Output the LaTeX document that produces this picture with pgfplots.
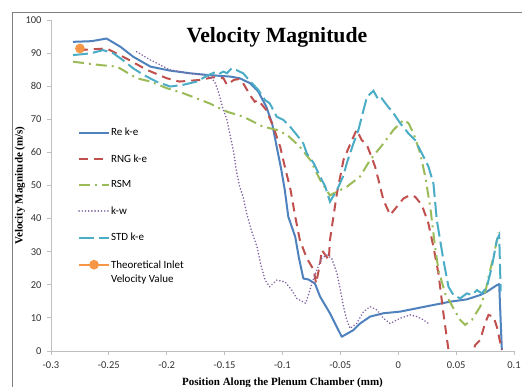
\documentclass[border=0pt]{standalone}
\usepackage{fontspec}
\setmainfont{Liberation Serif}
\newfontfamily\carlito{Carlito}
\usepackage{pgfplots}
\pgfplotsset{compat=1.18}
\definecolor{cblue}{HTML}{4F81BD}
\definecolor{cred}{HTML}{C0504D}
\definecolor{cgreen}{HTML}{9BBB59}
\definecolor{cpurple}{HTML}{8064A2}
\definecolor{cteal}{HTML}{4BACC6}
\definecolor{corange}{HTML}{F79646}
\begin{document}
\begin{tikzpicture}
\path[use as bounding box] (0pt,0pt) rectangle (522pt,387pt);
\draw[color=gray, line width=1pt] (12.7pt,0pt) -- (12.7pt,374.3pt) -- (522pt,374.3pt);
\begin{axis}[
  at={(51pt,36pt)}, anchor=south west,
  scale only axis, width=463pt, height=331pt,
  xmin=-0.3, xmax=0.1, ymin=0, ymax=100,
  axis x line*=bottom, axis y line*=left,
  axis line style={color=black!25, line width=0.8pt, -},
  tick style={color=black!25, line width=0.8pt},
  tick align=outside, major tick length=4pt,
  xtick={-0.3,-0.25,-0.2,-0.15,-0.1,-0.05,0,0.05,0.1},
  xticklabels={-0.3,-0.25,-0.2,-0.15,-0.1,-0.05,0,0.05,0.1},
  ytick={0,10,20,30,40,50,60,70,80,90,100},
  yticklabels={0,10,20,30,40,50,60,70,80,90,100},
  ticklabel style={font=\carlito\fontsize{10.5}{12}\selectfont, text=black!80},
  yticklabel style={xshift=-2pt},
  xticklabel style={yshift=-3pt},
  xlabel={Position Along the Plenum Chamber (mm)},
  ylabel={Velocity Magnitude (m/s)},
  label style={font=\bfseries\fontsize{11}{13}\selectfont},
  xlabel style={at={(axis description cs:0.5,-0.097)}, anchor=center},
  ylabel style={at={(axis description cs:-0.067,0.5)}, anchor=center},
  legend cell align=left,
  legend style={draw=none, fill=none, inner sep=0pt, row sep=15.2pt,
    at={(axis description cs:0.058,0.677)}, anchor=north west,
    font=\carlito\fontsize{11}{13.4}\selectfont,
    nodes={inner sep=1pt}},
  legend image code/.code={\draw[mark repeat=2,mark phase=2] plot coordinates {(0pt,0pt) (15pt,0pt) (30pt,0pt)};},
  clip=true,
]
\addplot[cblue, line width=2pt, line join=round] coordinates {
(-0.281,93.4)(-0.265,93.6)(-0.252,94.4)(-0.240,91.9)(-0.229,88.9)(-0.214,85.9)(-0.197,84.7)(-0.180,83.9)(-0.165,83.4)(-0.145,82.9)(-0.137,82.4)(-0.128,80.9)(-0.121,78.4)(-0.114,73.8)(-0.109,68.8)(-0.105,61.7)(-0.101,54.7)(-0.098,48.6)(-0.095,40.6)(-0.089,34.5)(-0.086,28.5)(-0.082,21.9)(-0.0776,21.6)(-0.072,20.4)(-0.0675,16.4)(-0.059,11.4)(-0.0488,4.3)(-0.0388,6.3)(-0.033,8.3)(-0.0243,10.4)(-0.0128,11.4)(0.0017,11.9)(0.016,12.9)(0.0304,13.9)(0.0449,14.9)(0.0593,15.6)(0.0708,16.9)(0.0766,17.9)(0.0852,19.9)(0.0872,20.2)(0.0895,0.3)
};
\addlegendentry{Re k-e}
\addplot[cred, line width=2pt, dash pattern=on 9pt off 6pt] coordinates {
(-0.276,90.9)(-0.252,91.4)(-0.235,88.4)(-0.217,84.9)(-0.200,82.4)(-0.189,81.4)(-0.171,81.9)(-0.160,82.7)(-0.151,82.4)(-0.148,80.4)(-0.142,81.9)(-0.137,82.2)(-0.134,80.9)(-0.128,77.3)(-0.124,75.3)(-0.121,75.8)(-0.114,72.8)(-0.108,67.8)(-0.102,61.7)(-0.098,55.7)(-0.093,48.6)(-0.089,40.6)(-0.085,33.5)(-0.079,28.0)(-0.073,24.5)(-0.071,20.4)(-0.0675,26.5)(-0.066,30.5)(-0.063,29.0)(-0.060,27.5)(-0.059,33.5)(-0.056,40.6)(-0.053,47.6)(-0.0473,57.7)(-0.0415,62.5)(-0.036,66.8)(-0.0315,63.7)(-0.027,62.2)(-0.0243,59.7)(-0.020,55.7)(-0.0156,49.6)(-0.0128,45.6)(-0.007,41.1)(-0.0012,43.6)(0.0045,46.1)(0.0103,47.1)(0.0146,46.6)(0.0204,44.1)(0.026,38.6)(0.0304,31.5)(0.0347,23.5)(0.039,11.4)(0.0434,0.3)(0.05,-8)(0.06,-5)(0.0665,1.8)(0.0708,3.3)(0.075,8.4)(0.078,10.9)(0.0823,10.4)(0.0852,7.3)(0.0895,0.3)
};
\addlegendentry{RNG k-e}
\addplot[cgreen, line width=2pt, dash pattern=on 11pt off 5pt on 2pt off 5pt] coordinates {
(-0.281,87.4)(-0.258,86.4)(-0.243,85.9)(-0.238,84.9)(-0.226,82.4)(-0.214,81.4)(-0.2,79.4)(-0.186,77.9)(-0.174,76.3)(-0.163,74.8)(-0.148,72.3)(-0.134,70.8)(-0.117,67.8)(-0.105,66.8)(-0.096,65.3)(-0.085,61.7)(-0.076,57.7)(-0.0675,51.7)(-0.059,47.0)(-0.056,47.6)(-0.0445,49.6)(-0.033,52.7)(-0.0243,57.7)(-0.0128,62.7)(-0.0041,66.8)(0.0045,69.8)(0.0089,68.8)(0.0132,65.7)(0.019,59.7)(0.0233,52.7)(0.0276,43.6)(0.0318,31.5)(0.0347,24.5)(0.0405,17.4)(0.0477,12.9)(0.0535,9.4)(0.0578,7.9)(0.0636,9.4)(0.0708,13.4)(0.075,17.4)(0.078,22.4)(0.0823,28.5)(0.0866,35.8)
};
\addlegendentry{RSM}
\addplot[cpurple, line width=1.8pt, line cap=round, dash pattern=on 0.01pt off 3.2pt] coordinates {
(-0.226,90.4)(-0.214,87.9)(-0.197,84.9)(-0.180,83.9)(-0.168,83.4)(-0.161,82.4)(-0.158,80.9)(-0.155,77.9)(-0.152,73.8)(-0.148,69.8)(-0.145,64.8)(-0.142,59.7)(-0.140,54.7)(-0.137,49.6)(-0.134,46.6)(-0.131,41.6)(-0.127,36.6)(-0.122,31.5)(-0.119,26.5)(-0.115,21.4)(-0.111,19.4)(-0.105,21.4)(-0.0978,20.9)(-0.092,18.4)(-0.0877,15.9)(-0.080,14.4)(-0.0776,16.9)(-0.0747,20.4)(-0.0704,24.5)(-0.066,28.0)(-0.0617,29.0)(-0.0575,28.0)(-0.053,23.5)(-0.050,18.4)(-0.0473,13.4)(-0.0445,9.4)(-0.0416,6.8)(-0.036,8.3)(-0.030,11.9)(-0.0243,13.4)(-0.0185,12.4)(-0.0128,9.9)(-0.007,8.3)(0.0017,9.9)(0.0103,10.9)(0.016,10.4)(0.0218,9.4)(0.0276,7.9)
};
\addlegendentry{k-w}
\addplot[cteal, line width=2pt, dash pattern=on 15pt off 5pt] coordinates {
(-0.281,89.4)(-0.266,89.9)(-0.255,90.9)(-0.246,89.9)(-0.238,87.9)(-0.229,85.4)(-0.220,83.4)(-0.209,81.4)(-0.197,79.9)(-0.186,80.4)(-0.174,81.4)(-0.165,83.2)(-0.157,84.4)(-0.154,83.9)(-0.151,84.4)(-0.148,83.9)(-0.144,85.4)(-0.140,84.9)(-0.134,83.9)(-0.129,81.9)(-0.125,80.4)(-0.121,78.9)(-0.115,75.8)(-0.111,74.8)(-0.105,70.8)(-0.0992,69.8)(-0.0935,67.8)(-0.0877,65.3)(-0.082,62.7)(-0.079,59.7)(-0.073,56.7)(-0.0675,52.7)(-0.063,49.6)(-0.059,45.1)(-0.053,48.6)(-0.0473,53.0)(-0.0445,56.7)(-0.0387,62.7)(-0.0344,66.8)(-0.0315,70.8)(-0.027,76.8)(-0.0214,78.6)(-0.017,75.8)(-0.0142,76.3)(-0.0099,74.3)(-0.0041,71.8)(0.0017,68.8)(0.0089,65.7)(0.0146,63.7)(0.0204,59.7)(0.0261,55.7)(0.0304,50.6)(0.0333,39.6)(0.039,27.5)(0.0434,19.4)(0.0477,16.9)(0.0535,15.9)(0.0593,17.4)(0.0636,16.9)(0.0679,18.4)(0.0722,17.4)(0.0766,19.4)(0.0809,25.5)(0.0852,33.5)(0.0872,35.0)(0.0885,18)
};
\addlegendentry{STD k-e}
\addplot[corange, line width=2pt, mark=*, mark size=3.8pt, mark options={fill=corange, draw=corange}] coordinates {(-0.275,91.4)};
\addlegendentry{\begin{tabular}[t]{@{}l@{}}Theoretical Inlet\\Velocity Value\end{tabular}}
\node[font=\bfseries\fontsize{21.7}{24}\selectfont] at (rel axis cs:0.488,0.949) {Velocity Magnitude};
\end{axis}
\end{tikzpicture}
\end{document}
